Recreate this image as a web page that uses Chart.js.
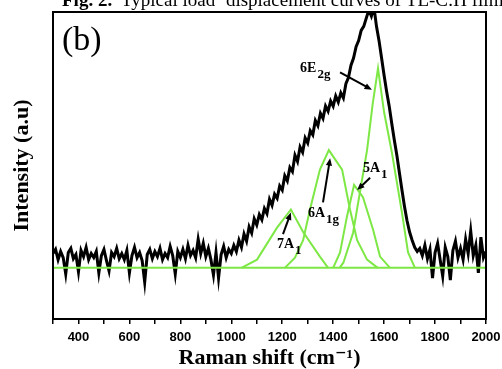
<!DOCTYPE html>
<html>
<head>
<meta charset="utf-8">
<script src="https://cdn.jsdelivr.net/npm/chart.js@4.4.1/dist/chart.umd.min.js"></script>
<style>
  html, body { margin: 0; padding: 0; background: #fff; }
  canvas { display: block; }
</style>
</head>
<body>
<canvas id="ramanChart" width="502" height="369"></canvas>
<script>
// measured spectrum, one reading every 10 cm-1 from 300 to 2000
const shiftStart = 300;
const shiftStep = 10;
const ramanIntensity = [
  14, 18, 8, 16, 10, -6, 15, 19, 9, 13,
  -4, 17, 11, 20, 8, 14, 10, 16, -5, 12,
  18, 7, -3, 15, 11, 19, 9, 14, 8, 17,
  -5, 12, 20, 10, 15, 7, -14, 13, 18, 9,
  16, 11, 19, 8, 14, 10, 21, 12, -6, 16,
  10, 18, 9, 22, 12, 17, 10, 28, 14, 24,
  11, 19, 8, -7, 15, -10, 13, 21, 10, 18,
  14, 22, 16, 27, 20, 33, 26, 40, 34, 48,
  42, 52, 47, 58, 53, 67, 61, 72, 68, 80,
  76, 90, 85, 98, 94, 110, 104, 118, 113, 127,
  122, 134, 130, 144, 139, 151, 146, 158, 153, 163,
  158, 168, 162, 171, 166, 180, 186, 198, 205, 216,
  222, 232, 236, 244, 252, 246, 255, 236, 222, 205,
  188, 172, 158, 141, 125, 110, 93, 76, 60, 46,
  35, 27, 20, 16, 19, 12, 22, 9, 18, -10,
  15, 24, 8, -8, 20, 11, -12, 17, 26, 10,
  19, 8, 28, 14, 36, 12, 22, -5, 30, 10,
  16
];

// fitted components [shift, intensity]
const peak7A1 = [[1040, 0], [1101, 8], [1179, 39], [1234, 57], [1282, 35], [1348, 11], [1380, 0]];
const peak6A1g = [[1210, 0], [1250, 10], [1282, 27], [1309, 57], [1348, 96], [1383, 115], [1435, 96], [1466, 57], [1494, 27], [1533, 8], [1575, 0]];
const peak5A1 = [[1400, 0], [1427, 15], [1454, 50], [1482, 81], [1517, 69], [1557, 37], [1584, 11], [1623, 0]];
const peak6E2g = [[1425, 0], [1440, 5], [1478, 34], [1533, 115], [1555, 160], [1576, 195], [1600, 152], [1631, 112], [1670, 54], [1694, 15], [1721, 0]];
const fitBaseline = [[300, 0], [2000, 0]];

const xTickStep = 100;
const xLabelStep = 200;

const green = '#7de845';
const serif = "'Liberation Serif', 'DejaVu Serif', serif";

const spectrum = ramanIntensity.map((v, i) => ({ x: shiftStart + i * shiftStep, y: v }));
const toPoints = arr => arr.map(p => ({ x: p[0], y: p[1] }));

// peak labels: text, subscript, anchor and arrow (data units)
const peakLabels = [
  { main: '6E', sub: '2g', at: [1270, 191], arrow: [[1427, 191], [1552, 174]] },
  { main: '5A', sub: '1', at: [1517, 94], arrow: [[1545, 88], [1494, 76]] },
  { main: '6A', sub: '1g', at: [1301, 50], arrow: [[1360, 64], [1388, 107]] },
  { main: '7A', sub: '1', at: [1179, 19], arrow: [[1203, 33], [1234, 54]] }
];

const drawArrow = (ctx, x1, y1, x2, y2) => {
  const ang = Math.atan2(y2 - y1, x2 - x1);
  const head = 8;
  ctx.beginPath();
  ctx.moveTo(x1, y1);
  ctx.lineTo(x2 - Math.cos(ang) * head * 0.8, y2 - Math.sin(ang) * head * 0.8);
  ctx.stroke();
  ctx.beginPath();
  ctx.moveTo(x2, y2);
  ctx.lineTo(x2 - head * Math.cos(ang - 0.4), y2 - head * Math.sin(ang - 0.4));
  ctx.lineTo(x2 - head * Math.cos(ang + 0.4), y2 - head * Math.sin(ang + 0.4));
  ctx.closePath();
  ctx.fill();
};

const annotationPlugin = {
  id: 'peakLabels',
  afterDatasetsDraw(chart) {
    const { ctx, scales: { x, y } } = chart;
    ctx.save();
    ctx.fillStyle = '#000';
    ctx.strokeStyle = '#000';
    ctx.lineWidth = 2;
    ctx.textBaseline = 'alphabetic';
    ctx.textAlign = 'left';
    peakLabels.forEach(l => {
      const px = x.getPixelForValue(l.at[0]);
      const py = y.getPixelForValue(l.at[1]);
      ctx.font = 'bold 14px ' + serif;
      ctx.fillText(l.main, px, py);
      const w = ctx.measureText(l.main).width;
      ctx.font = 'bold 13px ' + serif;
      ctx.fillText(l.sub, px + w + 1, py + 6);
      const a = l.arrow;
      drawArrow(ctx,
        x.getPixelForValue(a[0][0]), y.getPixelForValue(a[0][1]),
        x.getPixelForValue(a[1][0]), y.getPixelForValue(a[1][1]));
    });
    ctx.font = '34px ' + serif;
    ctx.fillText('(b)', chart.chartArea.left + 9, chart.chartArea.top + 38);
    ctx.restore();
  },
  afterDraw(chart) {
    const { ctx, chartArea: a } = chart;
    ctx.save();
    ctx.strokeStyle = '#000';
    ctx.lineWidth = 2;
    ctx.strokeRect(a.left, a.top, a.right - a.left, a.bottom - a.top);
    // caption of the page, cut off at the top
    ctx.fillStyle = '#000';
    ctx.textBaseline = 'alphabetic';
    ctx.font = 'bold 19px ' + serif;
    ctx.fillText('Fig. 2.', 62, 6);
    ctx.font = '19px ' + serif;
    ctx.fillText('Typical load\u2212displacement curves of TL-C:H film', 121, 6);
    ctx.restore();
  }
};

const greenSet = (data) => ({
  data: toPoints(data),
  borderColor: green,
  borderWidth: 2,
  pointRadius: 0,
  tension: 0,
  order: 1
});

new Chart(document.getElementById('ramanChart'), {
  type: 'line',
  data: {
    datasets: [
      greenSet(fitBaseline),
      greenSet(peak7A1),
      greenSet(peak6A1g),
      greenSet(peak5A1),
      greenSet(peak6E2g),
      {
        data: spectrum,
        borderColor: '#000',
        borderWidth: 3,
        pointRadius: 0,
        tension: 0,
        order: 2
      }
    ]
  },
  options: {
    responsive: false,
    animation: false,
    layout: { padding: { top: 12, right: 16, left: 0, bottom: 0 } },
    plugins: { legend: { display: false }, tooltip: { enabled: false } },
    scales: {
      x: {
        type: 'linear',
        min: 300,
        max: 2000,
        afterFit: s => { s.height = 50; s.paddingRight = 0; s.paddingLeft = 0; },
        border: { display: false },
        grid: { drawOnChartArea: false, drawTicks: true, tickLength: 5, color: '#000', lineWidth: 1.5 },
        ticks: {
          stepSize: xTickStep,
          autoSkip: false,
          maxRotation: 0,
          padding: 6,
          color: '#000',
          font: { family: "'Liberation Sans', Arial, sans-serif", size: 13, weight: 'bold' },
          callback: v => (v % xLabelStep === 0 ? v : '')
        },
        title: {
          display: true,
          text: 'Raman shift (cm\u207B\u00B9)',
          color: '#000',
          padding: { top: 0, bottom: 0 },
          font: { family: serif, size: 22, weight: 'bold', lineHeight: 1.0 }
        }
      },
      y: {
        min: -50,
        max: 250,
        afterFit: s => { s.width = 53; },
        border: { display: false },
        grid: { display: false },
        ticks: { display: false },
        title: {
          display: true,
          text: 'Intensity (a.u)',
          color: '#000',
          padding: { top: 10, bottom: 0 },
          font: { family: serif, size: 22, weight: 'bold', lineHeight: 1.1 }
        }
      }
    }
  },
  plugins: [annotationPlugin]
});
</script>
</body>
</html>
